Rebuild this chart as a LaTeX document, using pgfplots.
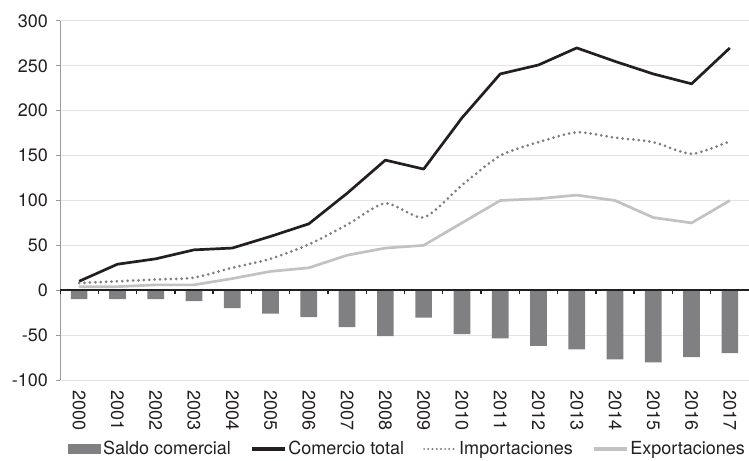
\documentclass[border=0pt]{standalone}
\usepackage{pgfplots}
\pgfplotsset{compat=1.18}
\usepackage{fontspec}
\setmainfont{TeX Gyre Heros}
\definecolor{txt}{HTML}{231F20}
\definecolor{barc}{HTML}{808083}
\definecolor{impc}{HTML}{7F7F7F}
\definecolor{expc}{HTML}{C2C2C4}
\definecolor{gridc}{HTML}{E3E3E3}
\definecolor{axc}{HTML}{9A9A9A}
\begin{document}
\fontsize{18bp}{21bp}\selectfont
\begin{tikzpicture}
\begin{axis}[name=ax, scale only axis, width=689bp, height=359bp,
  xmin=-0.5, xmax=17.5, ymin=-100, ymax=300,
  ytick={-100,-50,...,300},
  xtick={0,...,17},
  xticklabels={2000,2001,2002,2003,2004,2005,2006,2007,2008,2009,2010,2011,2012,2013,2014,2015,2016,2017},
  axis y line*=left, axis x line*=bottom,
  x axis line style={draw=none},
  y axis line style={draw=axc, line width=1bp, -},
  ymajorgrids, grid style={gridc, line width=1bp},
  x tick style={draw=none}, 
  y tick style={draw=axc, line width=1bp},
  major tick length=4bp, tick align=outside,
  tick label style={font=\fontsize{18bp}{21bp}\selectfont, text=txt},
  yticklabel style={/pgf/number format/assume math mode=true, xshift=-2bp},
  xticklabel style={rotate=-90, anchor=west, xshift=0bp},
  legend columns=4,
  legend style={draw=none, fill=none, at={(0.5,0)}, anchor=center, yshift=-69bp, xshift=3bp,
    font=\fontsize{18bp}{21bp}\selectfont, text=txt,
    /tikz/every even column/.append style={column sep=17bp}},
  legend cell align=left,
  legend image code/.code={\draw[#1, line width=3.5bp] (0bp,0bp) -- (33bp,0bp);},
]
\addplot[ybar, bar width=16.7bp, fill=barc, draw=none,
  legend image code/.code={\fill[barc] (0bp,-5bp) rectangle (33bp,5bp);}]
  coordinates {(0,-10) (1,-10) (2,-10) (3,-12) (4,-20) (5,-26) (6,-30) (7,-41) (8,-51) (9,-30.5) (10,-49) (11,-53.5) (12,-62) (13,-66) (14,-77) (15,-80.5) (16,-74.5) (17,-70)};
\addlegendentry{Saldo comercial}
\addplot[txt, line width=2.7bp, line join=round]
  coordinates {(0,10) (1,29) (2,35) (3,45) (4,47) (5,60) (6,74) (7,108) (8,145) (9,135) (10,192) (11,241) (12,251) (13,270) (14,255) (15,241) (16,230) (17,270)};
\addlegendentry{Comercio total}
\addplot[impc, line width=3bp, line cap=round, dash pattern=on 0bp off 5.4bp, smooth, tension=0.4,
  legend image code/.code={\draw[impc, line width=2.2bp, line cap=round, dash pattern=on 0bp off 4.2bp] (1bp,0bp) -- (33bp,0bp);}]
  coordinates {(0,8) (1,10) (2,12) (3,14) (4,25) (5,35) (6,51) (7,73) (8,97) (9,81) (10,117) (11,150) (12,165) (13,176) (14,170) (15,165) (16,152) (17,166)};
\addlegendentry{Importaciones}
\addplot[expc, line width=2.7bp, line join=round]
  coordinates {(0,4) (1,4) (2,6) (3,6) (4,13) (5,21) (6,25) (7,39) (8,47) (9,50) (10,75) (11,100) (12,102) (13,106) (14,100) (15,81) (16,75) (17,100)};
\addlegendentry{Exportaciones}
\draw[txt, line width=1.8bp] (axis cs:-0.5,0) -- (axis cs:17.5,0);
\pgfplotsinvokeforeach{-0.5,0.5,...,16.5}{\draw[txt, line width=1.4bp] (axis cs:#1,0) -- ([yshift=-4bp]axis cs:#1,0);}
\end{axis}
\pgfresetboundingbox
\path ([xshift=-60bp,yshift=21bp]ax.north west) rectangle ([yshift=-81bp]ax.south east);
\end{tikzpicture}
\end{document}
